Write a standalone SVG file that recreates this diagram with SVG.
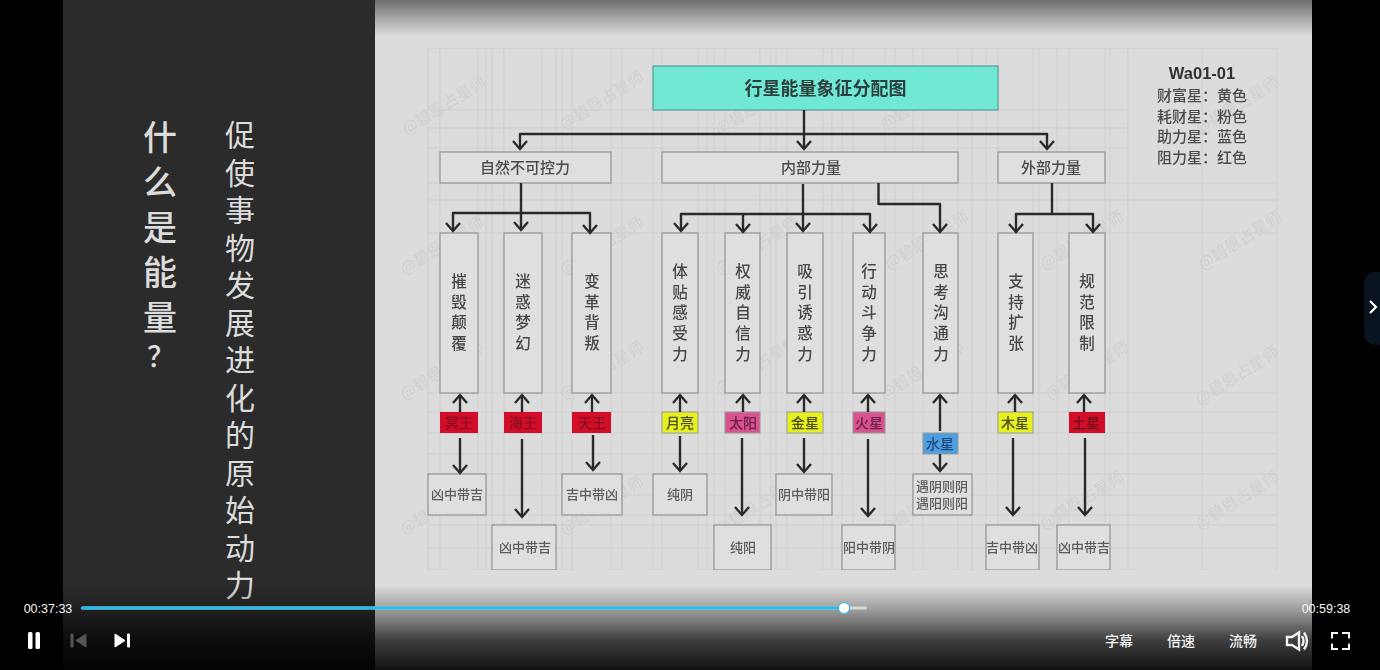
<svg xmlns="http://www.w3.org/2000/svg" width="1380" height="670" viewBox="0 0 1380 670">
<style>
text{font-family:"Noto Sans CJK SC","Noto Sans",sans-serif}
.box{fill:#dfdfdf;stroke:#989898;stroke-width:1.3}
.t{font-size:15px;fill:#4a4a4a;text-anchor:middle;font-weight:500}
.s{font-size:13px;fill:#5c5c5c;text-anchor:middle;font-weight:500}
.p{font-size:14px;text-anchor:middle;font-weight:500}
.v{font-size:15.5px;fill:#474747;text-anchor:middle;font-weight:500}
.wm{font-size:16px;fill:#d0d0d0;text-anchor:middle}
.c{fill:none;stroke:#2b2b2b;stroke-width:2.4;stroke-linejoin:round}
.a{marker-end:url(#arr)}
.lg{font-size:15px;fill:#4c4c4c;font-weight:500}
.ctl{font-size:14px;fill:#f2f2f2;text-anchor:middle;font-weight:500}
.time{font-size:12.5px;fill:#f5f5f5;font-family:"Liberation Sans",sans-serif;text-anchor:middle}
.col{fill:#dcdcdc;writing-mode:vertical-rl}
</style>
<defs>
<marker id="arr" markerUnits="userSpaceOnUse" markerWidth="20" markerHeight="20" refX="10" refY="10" orient="auto">
<path d="M2 3 L10 10 L2 17" fill="none" stroke="#2b2b2b" stroke-width="2.400"/>
</marker>
<linearGradient id="top" x1="0" y1="0" x2="0" y2="1"><stop offset="0" stop-color="#000" stop-opacity=".5"/><stop offset="1" stop-color="#000" stop-opacity="0"/></linearGradient>
<linearGradient id="bot" x1="0" y1="0" x2="0" y2="1"><stop offset="0" stop-color="#000" stop-opacity="0"/><stop offset=".3" stop-color="#000" stop-opacity=".3"/><stop offset=".65" stop-color="#000" stop-opacity=".72"/><stop offset="1" stop-color="#000" stop-opacity=".92"/></linearGradient>
<filter id="soft" x="0" y="0" width="100%" height="100%"><feGaussianBlur stdDeviation="0.55"/></filter>
</defs>
<rect width="1380" height="670" fill="#000"/>
<rect x="63" width="312" height="670" fill="#2b2b2b"/>
<rect x="375" width="937" height="670" fill="#dcdcdc"/>
<g id="left-text">
<text class="col" x="160" y="120" font-size="34" font-weight="500" letter-spacing="11">什么是能量</text>
<text x="154" y="367" font-size="28" fill="#dcdcdc" text-anchor="middle" font-weight="500" dx="7">？</text>
<text class="col" x="240" y="120" font-size="30" letter-spacing="7.500">促使事物发展进化的原始动力</text>
</g>
<g id="slide" filter="url(#soft)">
<path id="grid" fill="none" stroke="#cfcfcf" stroke-width="1" d="M428 48V570M440 48V570M478 48V570M486 48V570M492 48V570M504 48V570M542 48V570M556 48V570M562 48V570M572 48V570M611 48V570M622 48V570M653 48V570M662 48V570M698 48V570M707 48V570M714 48V570M725 48V570M760 48V570M771 48V570M776 48V570M787 48V570M823 48V570M832 48V570M842 48V570M853 48V570M885 48V570M895 48V570M913 48V570M923 48V570M958 48V570M972 48V570M986 48V570M998 48V570M1033 48V570M1039 48V570M1057 48V570M1069 48V570M1105 48V570M1110 48V570M1128 48V570M1202 48V570M1277 48V570M428 48H1277M428 110H1128M428 128H1128M428 148H1128M428 183H1277M428 200H1277M428 233H1277M428 393H1277M428 412H1277M428 433H1277M428 454H1277M428 474H1277M428 495H1277M428 515H1277M428 525H1277M428 548H1277M428 570H1277"/>
<g id="watermarks">
<text class="wm" transform="translate(447 110) rotate(-32)">@碧恩占星师</text><text class="wm" transform="translate(605 105) rotate(-32)">@碧恩占星师</text><text class="wm" transform="translate(760 110) rotate(-32)">@碧恩占星师</text><text class="wm" transform="translate(925 105) rotate(-32)">@碧恩占星师</text><text class="wm" transform="translate(1240 110) rotate(-32)">@碧恩占星师</text>
<text class="wm" transform="translate(445 250) rotate(-32)">@碧恩占星师</text><text class="wm" transform="translate(605 250) rotate(-32)">@碧恩占星师</text><text class="wm" transform="translate(760 250) rotate(-32)">@碧恩占星师</text><text class="wm" transform="translate(930 245) rotate(-32)">@碧恩占星师</text><text class="wm" transform="translate(1085 245) rotate(-32)">@碧恩占星师</text><text class="wm" transform="translate(1243 245) rotate(-32)">@碧恩占星师</text>
<text class="wm" transform="translate(445 375) rotate(-32)">@碧恩占星师</text><text class="wm" transform="translate(605 375) rotate(-32)">@碧恩占星师</text><text class="wm" transform="translate(760 370) rotate(-32)">@碧恩占星师</text><text class="wm" transform="translate(925 375) rotate(-32)">@碧恩占星师</text><text class="wm" transform="translate(1090 375) rotate(-32)">@碧恩占星师</text><text class="wm" transform="translate(1240 380) rotate(-32)">@碧恩占星师</text>
<text class="wm" transform="translate(445 510) rotate(-32)">@碧恩占星师</text><text class="wm" transform="translate(605 510) rotate(-32)">@碧恩占星师</text><text class="wm" transform="translate(760 510) rotate(-32)">@碧恩占星师</text><text class="wm" transform="translate(925 510) rotate(-32)">@碧恩占星师</text><text class="wm" transform="translate(1085 505) rotate(-32)">@碧恩占星师</text><text class="wm" transform="translate(1240 505) rotate(-32)">@碧恩占星师</text>
</g>
<g id="n-title"><rect x="653" y="66" width="345" height="44" fill="#6fe8d6" stroke="#5a9a94" stroke-width="1.2"/><text x="825.500" y="94.500" font-size="18" font-weight="700" fill="#2f3f3d" text-anchor="middle">行星能量象征分配图</text></g>
<g id="n-a"><rect class="box" x="440" y="152" width="171" height="31"/><text class="t" x="525" y="173">自然不可控力</text></g>
<g id="n-b"><rect class="box" x="662" y="152" width="296" height="31"/><text class="t" x="811" y="173">内部力量</text></g>
<g id="n-c"><rect class="box" x="998" y="152" width="107" height="31"/><text class="t" x="1051" y="173">外部力量</text></g>

<g id="n-v1"><rect class="box" x="440" y="233" width="38" height="160"/><text class="v"><tspan x="459" y="287">摧</tspan><tspan x="459" y="308">毁</tspan><tspan x="459" y="328">颠</tspan><tspan x="459" y="349">覆</tspan></text></g>
<g id="n-v2"><rect class="box" x="504" y="233" width="38" height="160"/><text class="v"><tspan x="523" y="287">迷</tspan><tspan x="523" y="308">惑</tspan><tspan x="523" y="328">梦</tspan><tspan x="523" y="349">幻</tspan></text></g>
<g id="n-v3"><rect class="box" x="572" y="233" width="39" height="160"/><text class="v"><tspan x="592" y="287">变</tspan><tspan x="592" y="308">革</tspan><tspan x="592" y="328">背</tspan><tspan x="592" y="349">叛</tspan></text></g>
<g id="n-v4"><rect class="box" x="662" y="233" width="36" height="160"/><text class="v"><tspan x="680" y="277">体</tspan><tspan x="680" y="298">贴</tspan><tspan x="680" y="318">感</tspan><tspan x="680" y="339">受</tspan><tspan x="680" y="360">力</tspan></text></g>
<g id="n-v5"><rect class="box" x="725" y="233" width="35" height="160"/><text class="v"><tspan x="743" y="277">权</tspan><tspan x="743" y="298">威</tspan><tspan x="743" y="318">自</tspan><tspan x="743" y="339">信</tspan><tspan x="743" y="360">力</tspan></text></g>
<g id="n-v6"><rect class="box" x="787" y="233" width="36" height="160"/><text class="v"><tspan x="805" y="277">吸</tspan><tspan x="805" y="298">引</tspan><tspan x="805" y="318">诱</tspan><tspan x="805" y="339">惑</tspan><tspan x="805" y="360">力</tspan></text></g>
<g id="n-v7"><rect class="box" x="853" y="233" width="32" height="160"/><text class="v"><tspan x="869" y="277">行</tspan><tspan x="869" y="298">动</tspan><tspan x="869" y="318">斗</tspan><tspan x="869" y="339">争</tspan><tspan x="869" y="360">力</tspan></text></g>
<g id="n-v8"><rect class="box" x="923" y="233" width="35" height="160"/><text class="v"><tspan x="941" y="277">思</tspan><tspan x="941" y="298">考</tspan><tspan x="941" y="318">沟</tspan><tspan x="941" y="339">通</tspan><tspan x="941" y="360">力</tspan></text></g>
<g id="n-v9"><rect class="box" x="998" y="233" width="35" height="160"/><text class="v"><tspan x="1016" y="287">支</tspan><tspan x="1016" y="308">持</tspan><tspan x="1016" y="328">扩</tspan><tspan x="1016" y="349">张</tspan></text></g>
<g id="n-v10"><rect class="box" x="1069" y="233" width="36" height="160"/><text class="v"><tspan x="1087" y="287">规</tspan><tspan x="1087" y="308">范</tspan><tspan x="1087" y="328">限</tspan><tspan x="1087" y="349">制</tspan></text></g>

<g id="n-p1"><rect x="440" y="412" width="38" height="21" fill="#d2102c"/><text class="p" x="459" y="428" fill="#8a1020">冥王</text></g>
<g id="n-p2"><rect x="504" y="412" width="38" height="21" fill="#d2102c"/><text class="p" x="523" y="428" fill="#8a1020">海王</text></g>
<g id="n-p3"><rect x="572" y="412" width="39" height="21" fill="#d2102c"/><text class="p" x="592" y="428" fill="#8a1020">天王</text></g>
<g id="n-p4"><rect x="662" y="412" width="36" height="21" fill="#e6f01e" stroke="#999"/><text class="p" x="680" y="428" fill="#4a4a20">月亮</text></g>
<g id="n-p5"><rect x="725" y="412" width="35" height="21" fill="#d9528f" stroke="#999"/><text class="p" x="743" y="428" fill="#6a2048">太阳</text></g>
<g id="n-p6"><rect x="787" y="412" width="36" height="21" fill="#e6f01e" stroke="#999"/><text class="p" x="805" y="428" fill="#4a4a20">金星</text></g>
<g id="n-p7"><rect x="853" y="412" width="32" height="21" fill="#d9528f" stroke="#999"/><text class="p" x="869" y="428" fill="#6a2048">火星</text></g>
<g id="n-p8"><rect x="923" y="433" width="35" height="21" fill="#4f9fe0" stroke="#999"/><text class="p" x="940" y="449" fill="#1d4a78">水星</text></g>
<g id="n-p9"><rect x="998" y="412" width="35" height="21" fill="#e6f01e" stroke="#999"/><text class="p" x="1015" y="428" fill="#4a4a20">木星</text></g>
<g id="n-p10"><rect x="1069" y="412" width="36" height="21" fill="#d2102c"/><text class="p" x="1086" y="428" fill="#6a1018">土星</text></g>

<g id="n-r1"><rect class="box" x="428" y="474" width="58" height="41"/><text class="s" x="457" y="499">凶中带吉</text></g>
<g id="n-r2"><rect class="box" x="492" y="525" width="64" height="45"/><text class="s" x="525" y="552">凶中带吉</text></g>
<g id="n-r3"><rect class="box" x="562" y="474" width="60" height="41"/><text class="s" x="592" y="499">吉中带凶</text></g>
<g id="n-r4"><rect class="box" x="653" y="474" width="54" height="41"/><text class="s" x="680" y="499">纯阴</text></g>
<g id="n-r5"><rect class="box" x="714" y="525" width="57" height="45"/><text class="s" x="743" y="552">纯阳</text></g>
<g id="n-r6"><rect class="box" x="776" y="474" width="56" height="41"/><text class="s" x="804" y="499">阴中带阳</text></g>
<g id="n-r7"><rect class="box" x="842" y="525" width="53" height="45"/><text class="s" x="869" y="552">阳中带阴</text></g>
<g id="n-r8"><rect class="box" x="913" y="474" width="59" height="41"/><text class="s" x="942" y="491">遇阴则阴</text><text class="s" x="942" y="508">遇阳则阳</text></g>
<g id="n-r9"><rect class="box" x="986" y="525" width="53" height="45"/><text class="s" x="1012" y="552">吉中带凶</text></g>
<g id="n-r10"><rect class="box" x="1057" y="525" width="53" height="45"/><text class="s" x="1084" y="552">凶中带吉</text></g>

<g id="connectors">
<path class="c a" d="M804 110V149"/>
<path class="c a" d="M804 134H520V149"/>
<path class="c a" d="M804 134H1047V149"/>
<path class="c a" d="M521 183V230"/>
<path class="c a" d="M521 213H453V231"/>
<path class="c a" d="M521 213H590V233"/>
<path class="c a" d="M803 184V231"/>
<path class="c a" d="M803 214H681V231"/>
<path class="c a" d="M743 214V232"/>
<path class="c a" d="M803 214H870V232"/>
<path class="c a" d="M878.500 183V204H940V232"/>
<path class="c" d="M1052 183V214"/>
<path class="c a" d="M1052 214H1016V232"/>
<path class="c a" d="M1052 214H1093V232"/>
<path class="c a" d="M460 412V395"/><path class="c a" d="M522 412V395"/><path class="c a" d="M592 412V395"/><path class="c a" d="M680 412V395"/><path class="c a" d="M743 412V395"/><path class="c a" d="M804 412V395"/><path class="c a" d="M868 412V395"/><path class="c a" d="M940 431V395"/><path class="c a" d="M1015 412V395"/><path class="c a" d="M1084 412V395"/>
<path class="c a" d="M460 438V473"/><path class="c a" d="M522 439V517"/><path class="c a" d="M593 435V470"/><path class="c a" d="M680 436V471"/><path class="c a" d="M742 438V515"/><path class="c a" d="M804 438V472"/><path class="c a" d="M868 439V516"/><path class="c a" d="M940 454V471"/><path class="c a" d="M1013 438V515"/><path class="c a" d="M1085 438V515"/>
</g>
<g id="legend">
<text x="1202" y="79" font-size="16.500" font-weight="700" fill="#333" text-anchor="middle" style="font-family:'Liberation Sans',sans-serif">Wa01-01</text>
<text class="lg" x="1157" y="101">财富星：黄色</text>
<text class="lg" x="1157" y="122">耗财星：粉色</text>
<text class="lg" x="1157" y="142">助力星：蓝色</text>
<text class="lg" x="1157" y="163">阻力星：红色</text>
</g>
</g>
<rect id="top-shade" x="375" y="0" width="937" height="36" fill="url(#top)"/>
<rect id="bottom-shade" x="63" y="585" width="1249" height="85" fill="url(#bot)"/>
<g id="player">
<text class="time" x="48" y="613">00:37:33</text>
<text class="time" x="1326" y="613">00:59:38</text>
<rect x="81" y="606.500" width="786" height="3" rx="1.500" fill="#d8d8d8"/>
<rect x="81" y="606.500" width="763" height="3" rx="1.500" fill="#22bcef"/>
<circle cx="844" cy="608" r="5.500" fill="#fff" stroke="#22bcef" stroke-width="1"/>
<g fill="#fff"><rect x="28" y="632" width="4.500" height="17" rx="1.500"/><rect x="35.500" y="632" width="4.500" height="17" rx="1.500"/></g>
<g fill="#555" stroke="#555" stroke-linejoin="round"><rect x="71" y="634" width="2" height="13"/><path d="M86 634V647L76 640.500Z"/></g>
<g fill="#fff" stroke="#fff" stroke-linejoin="round"><path d="M115 634V647L125 640.500Z"/><rect x="127.500" y="634" width="2" height="13"/></g>
<text class="ctl" x="1119" y="646">字幕</text>
<text class="ctl" x="1181" y="646">倍速</text>
<text class="ctl" x="1243" y="646">流畅</text>
<g fill="none" stroke="#f2f2f2" stroke-width="2.400"><path d="M1287 637H1292L1299 632.500V649.500L1292 645H1287Z"/><path d="M1302 636Q1305 641 1302 646M1304 632.500Q1310 641 1304 649.500"/></g>
<path d="M1332 638.500V633H1338M1342 633H1349V638.500M1349 643.500V649H1342M1338 649H1332V643.500" fill="none" stroke="#f5f5f5" stroke-width="2"/>
<path d="M1380 272H1376Q1364 272 1364 286V331Q1364 345 1376 345H1380Z" fill="#0a1320"/>
<path d="M1370 301L1376 307L1370 313" fill="none" stroke="#fff" stroke-width="2.200"/>
</g>
</svg>
